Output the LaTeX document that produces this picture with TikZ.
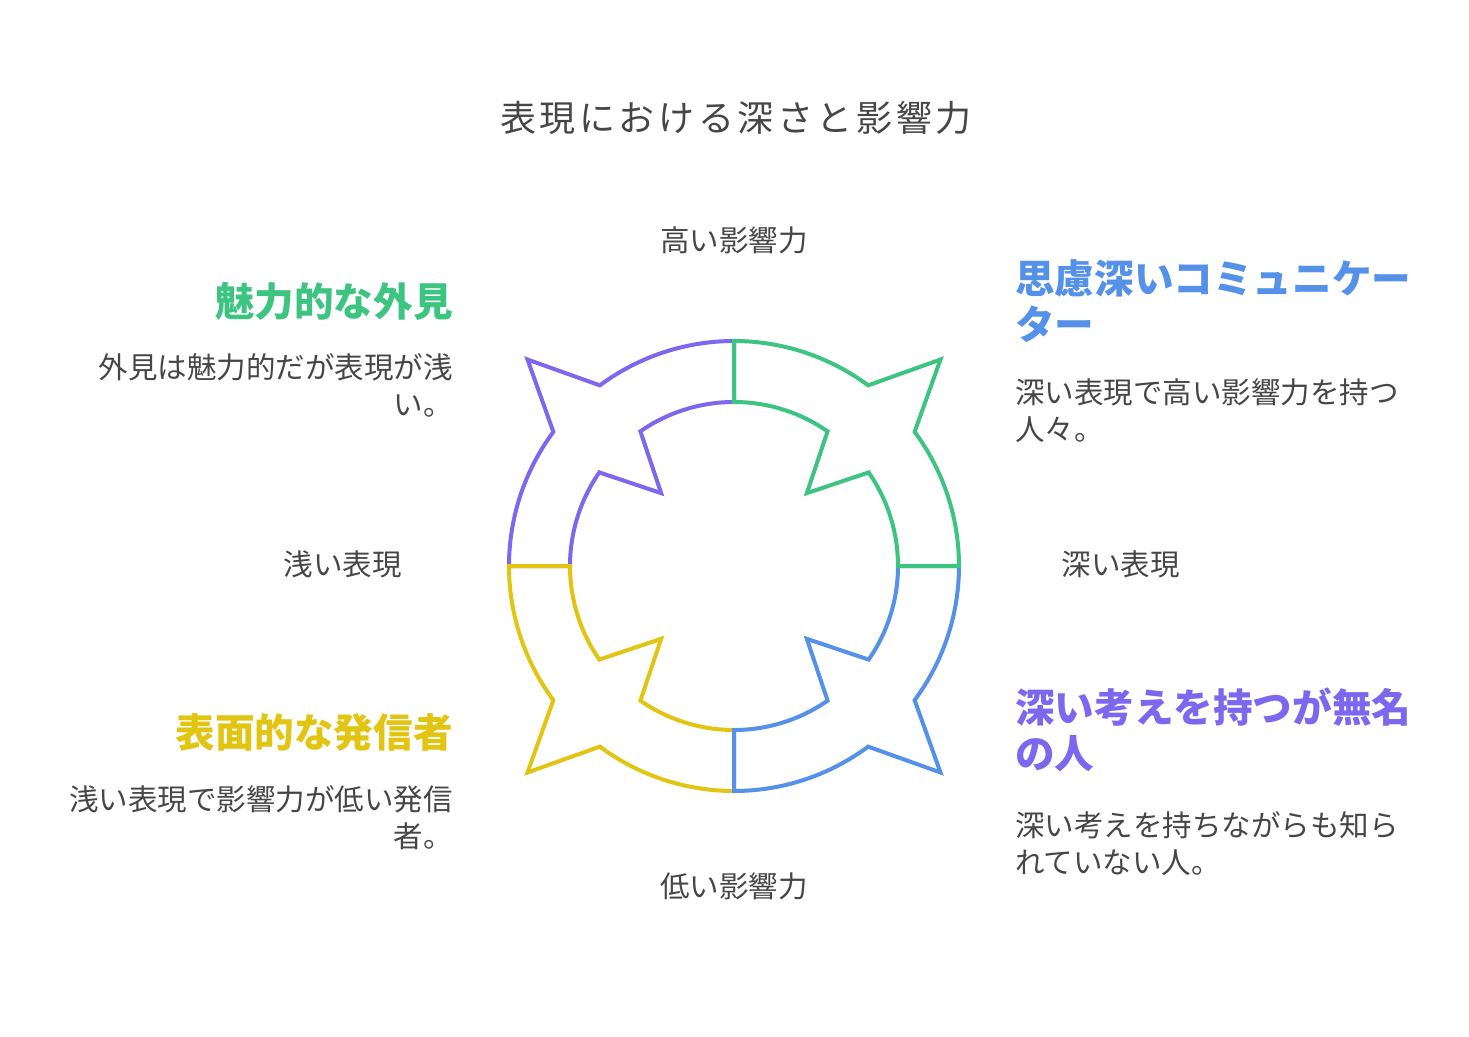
\documentclass[tikz,border=0pt]{standalone}
\usepackage{fontspec}
\setmainfont{Noto Sans CJK JP}
\newfontfamily\titlefont[LetterSpace=10]{Noto Sans CJK JP}

\definecolor{ringgreen}{HTML}{3DC481}
\definecolor{ringblue}{HTML}{5591E8}
\definecolor{ringpurple}{HTML}{7C68EE}
\definecolor{ringyellow}{HTML}{E2C512}
\definecolor{textgray}{HTML}{464646}

\tikzset{
  ringpart/.style={line width=4pt, line join=miter},
  heading/.style={font=\bfseries\fontsize{39.6}{46}\selectfont, inner sep=0pt},
  desc/.style={font=\fontsize{29.5}{37}\selectfont, text=textgray, inner sep=0pt},
  axislabel/.style={font=\fontsize{29.5}{35}\selectfont, text=textgray, inner sep=0pt}
}

\begin{document}
\begin{tikzpicture}[x=1pt, y=1pt]
\useasboundingbox (-734,-470) rectangle (735,566);

% four ring quarters, each with an outer and an inner point
\foreach \rot/\col in {90/ringpurple, 180/ringyellow, 270/ringblue, 0/ringgreen}{
  \draw[ringpart, draw=\col, rotate=\rot]
    (90:225) arc[start angle=90, end angle=53.4, radius=225]
    -- (45:292) -- (36.6:225)
    arc[start angle=36.6, end angle=0, radius=225]
    -- (0:164)
    arc[start angle=0, end angle=34.8, radius=164]
    -- (45:103) -- (55.2:164)
    arc[start angle=55.2, end angle=90, radius=164]
    -- cycle;
}

\node[inner sep=0pt, text=textgray, font=\titlefont\fontsize{36}{40}\selectfont,
      xshift=2pt] (title) at (0,448.5) {表現における深さと影響力};

\begin{scope}[every node/.style={axislabel}]
    \node (high) at (0,326) {高い影響力};
    \node (low) at (0,-320.5) {低い影響力};
    \node (shallow) at (-391,2) {浅い表現};
    \node (deep) at (386.5,2) {深い表現};
\end{scope}

% right column
\node[heading, text=ringblue, anchor=north west, align=left] (thoughtful) at (281,307)
    {思慮深いコミュニケー\\ター};
\node[desc, anchor=north west, align=left] (thoughtfuldesc) at (281,188)
    {深い表現で高い影響力を持つ\\人々。};
\node[heading, text=ringpurple, anchor=north west, align=left] (unknown) at (281,-122)
    {深い考えを持つが無名\\の人};
\node[desc, anchor=north west, align=left] (unknowndesc) at (281,-245)
    {深い考えを持ちながらも知ら\\れていない人。};

% left column
\node[heading, text=ringgreen, anchor=north east, align=right] (charming) at (-281,284)
    {魅力的な外見};
\node[desc, anchor=north east, align=right] (charmingdesc) at (-281,213)
    {外見は魅力的だが表現が浅\\い。};
\node[heading, text=ringyellow, anchor=north east, align=right] (surface) at (-281,-147)
    {表面的な発信者};
\node[desc, anchor=north east, align=right] (surfacedesc) at (-281,-219)
    {浅い表現で影響力が低い発信\\者。};
\end{tikzpicture}
\end{document}
